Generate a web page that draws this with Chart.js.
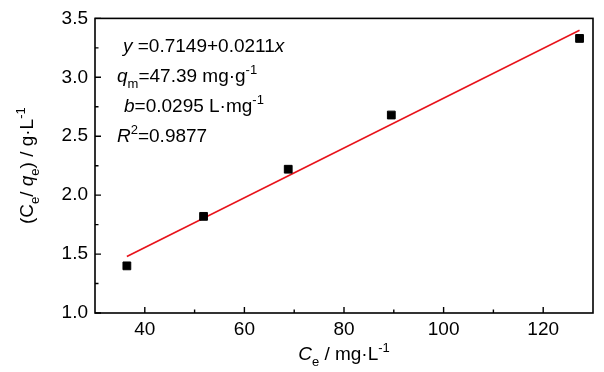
<!DOCTYPE html>
<html>
<head>
<meta charset="utf-8">
<script src="https://cdn.jsdelivr.net/npm/chart.js@4"></script>
<style>
  html, body { margin: 0; padding: 0; background: #fff; }
  #wrap { width: 604px; height: 372px; }
</style>
</head>
<body>
<div id="wrap"><canvas id="chart" width="604" height="372"></canvas></div>
<script>
// Data
const ceValues = [36.4, 51.8, 68.8, 89.5, 127.3];      // Ce / mg·L-1
const ratioValues = [1.40, 1.82, 2.22, 2.68, 3.33];    // Ce/qe / g·L-1
const fitX = [36.4, 127.3];
const fitY = [1.48, 3.40];
const xTicks = [40, 60, 80, 100, 120];
const xMinorTicks = [50, 70, 90, 110];
const yTicks = [1.0, 1.5, 2.0, 2.5, 3.0, 3.5];
const yMinorTicks = [1.25, 1.75, 2.25, 2.75, 3.25];

const FONT = '"Liberation Sans", Arial, sans-serif';
const FS = 19;

// Annotation lines: segments with style flags
const annotationLines = [
  { x: 123, y: 52, segs: [{ t: "y", i: true }, { t: " =0.7149+0.0211" }, { t: "x", i: true }] },
  { x: 117, y: 82, segs: [{ t: "q", i: true }, { t: "m", sub: true }, { t: "=47.39 mg·g" }, { t: "-1", sup: true }] },
  { x: 124, y: 112, segs: [{ t: "b", i: true }, { t: "=0.0295 L·mg" }, { t: "-1", sup: true }] },
  { x: 117, y: 142, segs: [{ t: "R", i: true }, { t: "2", sup: true }, { t: "=0.9877" }] },
];
const xTitle = [{ t: "C", i: true }, { t: "e", sub: true }, { t: " / mg·L" }, { t: "-1", sup: true }];
const yTitle = [{ t: "(C" }, { t: "e", sub: true }, { t: "/ " }, { t: "q", i: true }, { t: "e", sub: true }, { t: ") / g·L" }, { t: "-1", sup: true }];

function segFont(s) {
  const size = (s.sub || s.sup) ? 13 : FS;
  return (s.i ? "italic " : "") + size + "px " + FONT;
}

function measureRich(ctx, segs) {
  let w = 0;
  segs.forEach((s) => { ctx.font = segFont(s); w += ctx.measureText(s.t).width; });
  return w;
}

function drawRich(ctx, segs, x, y) {
  ctx.textAlign = "left";
  ctx.textBaseline = "alphabetic";
  let cx = x;
  segs.forEach((s) => {
    ctx.font = segFont(s);
    let dy = 0;
    if (s.sub) dy = 6;
    if (s.sup) dy = -8;
    ctx.fillText(s.t, cx, y + dy);
    cx += ctx.measureText(s.t).width;
  });
}

// Plugin: box, inward ticks, axis titles, equation text
const decorations = {
  id: "decorations",
  afterDraw(chart) {
    const ctx = chart.ctx;
    const a = chart.chartArea;
    const xs = chart.scales.x;
    const ys = chart.scales.y;
    ctx.save();
    ctx.strokeStyle = "#000";
    ctx.lineWidth = 1.6;
    ctx.strokeRect(a.left, a.top, a.right - a.left, a.bottom - a.top);

    ctx.lineWidth = 1.4;
    ctx.beginPath();
    xTicks.forEach((v) => { const p = xs.getPixelForValue(v); ctx.moveTo(p, a.bottom); ctx.lineTo(p, a.bottom - 6); });
    xMinorTicks.forEach((v) => { const p = xs.getPixelForValue(v); ctx.moveTo(p, a.bottom); ctx.lineTo(p, a.bottom - 3.5); });
    yTicks.forEach((v) => { const p = ys.getPixelForValue(v); ctx.moveTo(a.left, p); ctx.lineTo(a.left + 6, p); });
    yMinorTicks.forEach((v) => { const p = ys.getPixelForValue(v); ctx.moveTo(a.left, p); ctx.lineTo(a.left + 3.5, p); });
    ctx.stroke();

    ctx.fillStyle = "#000";
    // x title
    const xw = measureRich(ctx, xTitle);
    drawRich(ctx, xTitle, (a.left + a.right) / 2 - xw / 2, 360);
    // y title
    const yw = measureRich(ctx, yTitle);
    ctx.save();
    ctx.translate(33, (a.top + a.bottom) / 2);
    ctx.rotate(-Math.PI / 2);
    drawRich(ctx, yTitle, -yw / 2, 0);
    ctx.restore();
    // equation block
    annotationLines.forEach((ln) => drawRich(ctx, ln.segs, ln.x, ln.y));
    ctx.restore();
  },
};

const ctx = document.getElementById("chart").getContext("2d");
new Chart(ctx, {
  type: "scatter",
  data: {
    datasets: [
      {
        label: "data",
        data: ceValues.map((v, i) => ({ x: v, y: ratioValues[i] })),
        pointStyle: "rect",
        pointRadius: 5.5,
        pointBackgroundColor: "#000",
        pointBorderColor: "#000",
        pointBorderWidth: 1,
        order: 1,
      },
      {
        label: "fit",
        data: fitX.map((v, i) => ({ x: v, y: fitY[i] })),
        showLine: true,
        borderColor: "#e8141c",
        borderWidth: 1.6,
        pointRadius: 0,
        order: 2,
      },
    ],
  },
  options: {
    responsive: false,
    animation: false,
    layout: { padding: { left: 0, top: 15, right: 11, bottom: 0 } },
    plugins: { legend: { display: false }, tooltip: { enabled: false } },
    scales: {
      x: {
        type: "linear",
        min: 30,
        max: 130,
        afterBuildTicks: (s) => { s.ticks = xTicks.map((v) => ({ value: v })); },
        afterFit: (s) => { s.height = 59; },
        grid: { display: false, drawTicks: false },
        border: { display: false },
        ticks: { padding: 5, color: "#000", font: { family: FONT, size: FS }, maxRotation: 0 },
      },
      y: {
        type: "linear",
        min: 1.0,
        max: 3.5,
        afterBuildTicks: (s) => { s.ticks = yTicks.map((v) => ({ value: v })); },
        afterFit: (s) => { s.width = 95; },
        grid: { display: false, drawTicks: false },
        border: { display: false },
        ticks: { padding: 7, color: "#000", font: { family: FONT, size: FS }, callback: (v) => Number(v).toFixed(1) },
      },
    },
  },
  plugins: [decorations],
});
</script>
</body>
</html>
